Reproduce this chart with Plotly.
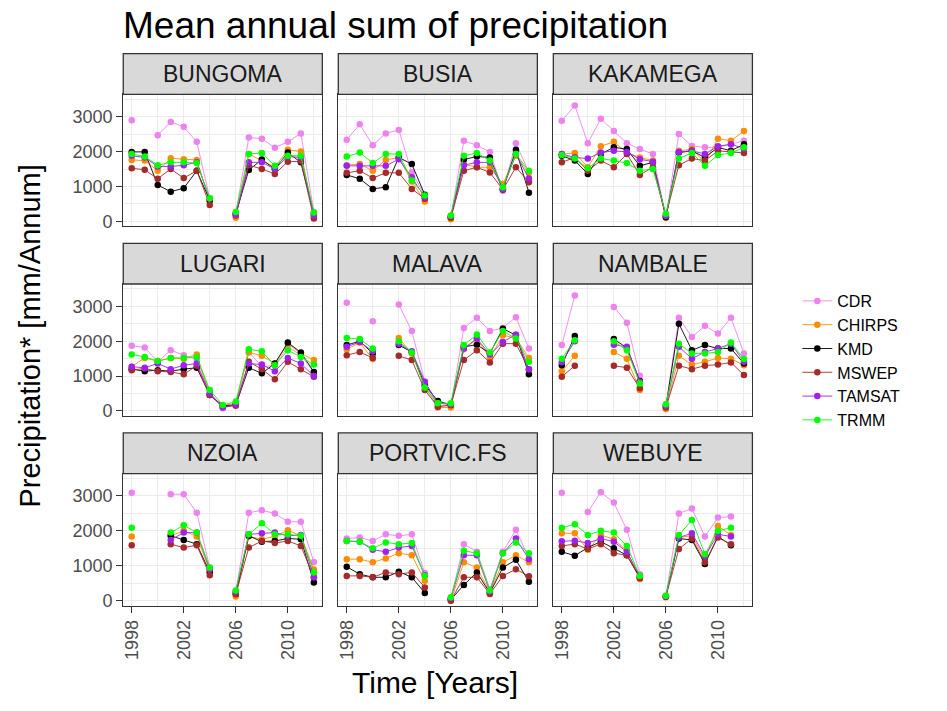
import plotly.graph_objects as go

# ---- data: mean annual precipitation sums [mm/annum], 1998-2012 ----
years = list(range(1998, 2013))
products = ["CDR", "CHIRPS", "KMD", "MSWEP", "TAMSAT", "TRMM"]
stations = ["BUNGOMA", "BUSIA", "KAKAMEGA", "LUGARI", "MALAVA", "NAMBALE",
            "NZOIA", "PORTVIC.FS", "WEBUYE"]
N = None

BUNGOMA = {
    "CDR":    [2900, N, 2470, 2850, 2710, 2280, 660, N, 220, 2400, 2370, 2110, 2280, 2520, 270],
    "CHIRPS": [1760, 1740, 1450, 1810, 1780, 1760, 570, N, 100, 1930, 1740, 1550, 2050, 2000, 120],
    "KMD":    [1990, 1990, 1040, 850, 950, 1450, 600, N, 220, 1470, 1770, 1500, 1970, 1690, 220],
    "MSWEP":  [1520, 1480, 1220, 1500, 1240, 1450, 470, N, 170, 1610, 1500, 1360, 1710, 1720, 80],
    "TAMSAT": [1880, 1830, 1570, 1570, 1610, 1690, 650, N, 190, 1690, 1690, 1500, 1860, 1830, 170],
    "TRMM":   [1930, 1860, 1610, 1690, 1690, 1670, 660, N, 270, 1930, 1960, 1590, 1880, 1880, 250],
}
BUSIA = {
    "CDR":    [2340, 2780, 2180, 2520, 2620, 1400, 740, N, 120, 2310, 2180, 1990, 880, 2240, 1400],
    "CHIRPS": [1610, 1640, 1450, 1760, 1830, 1140, 570, N, 60, 1640, 1550, 1550, 1070, 1880, 1390],
    "KMD":    [1330, 1220, 930, 980, 1830, 1640, 760, N, 120, 1770, 1860, 1830, 910, 2050, 820],
    "MSWEP":  [1390, 1450, 1240, 1390, 1390, 930, 650, N, 100, 1450, 1550, 1400, 910, 1550, 1120],
    "TAMSAT": [1590, 1590, 1590, 1590, 1780, 1260, 690, N, 150, 1610, 1690, 1690, 930, 1930, 1230],
    "TRMM":   [1860, 1970, 1670, 1930, 1930, 1170, 740, N, 170, 1880, 1960, 1740, 980, 1930, 1450],
}
KAKAMEGA = {
    "CDR":    [2880, 3320, 2240, 2940, 2590, 2240, 2070, 1930, 120, 2500, 2160, 2120, 2120, 2210, 2310],
    "CHIRPS": [1930, 1960, 1550, 2150, 2280, 1970, 1830, 1740, 100, 2020, 2070, 1690, 2370, 2310, 2590],
    "KMD":    [1880, 1740, 1360, 1930, 2120, 2070, 1590, 1690, 120, 1970, 2020, 1830, 2120, 2020, 2210],
    "MSWEP":  [1690, 1830, 1450, 1740, 1550, 1930, 1330, 1550, 170, 1610, 1800, 1740, 2020, 1990, 1960],
    "TAMSAT": [1930, 1830, 1800, 1970, 2020, 1990, 1780, 1710, 150, 1990, 2020, 1930, 2150, 2210, 2090],
    "TRMM":   [1900, 1800, 1520, 1800, 1740, 1670, 1450, 1500, 220, 1800, 1960, 1590, 1900, 1960, 2120],
}
LUGARI = {
    "CDR":    [1870, 1820, 1410, 1740, 1600, 1480, 550, 80, 190, 1690, 1270, 1310, 1840, 1600, 1120],
    "CHIRPS": [1270, 1520, 1430, 1520, 1500, 1620, 460, 150, 220, 1680, 1580, 1360, 1930, 1650, 1460],
    "KMD":    [1200, 1140, 1170, 1140, 1200, 1240, 460, 150, 170, 1240, 1080, 1360, 1960, 1680, 1120],
    "MSWEP":  [1170, 1220, 1140, 1120, 1050, 1300, 460, 120, 150, 1410, 1200, 910, 1410, 1200, 980],
    "TAMSAT": [1270, 1240, 1360, 1200, 1310, 1360, 500, 100, 190, 1360, 1330, 1140, 1520, 1360, 1000],
    "TRMM":   [1620, 1550, 1430, 1520, 1520, 1550, 600, 170, 270, 1770, 1710, 1310, 1740, 1550, 1330],
}
MALAVA = {
    "CDR":    [3100, N, 2570, N, 3050, 2290, 840, 150, 150, 2380, 2670, 2290, 2380, 2690, 1790],
    "CHIRPS": [1770, 1960, 1490, N, 2090, 1650, 720, 100, 100, 1770, 2060, 1520, 2170, 2090, 1520],
    "KMD":    [1890, 2000, 1650, N, 1890, 1690, 740, 290, 170, 1840, 1900, 1650, 2360, 2170, 1050],
    "MSWEP":  [1600, 1690, 1520, N, 1580, 1460, 600, 120, 170, 1460, 1740, 1390, 1930, 1930, 1200],
    "TAMSAT": [1840, 1980, 1710, N, 1930, 1710, 840, 220, 190, 1790, 2080, 1620, 1980, 2190, 1200],
    "TRMM":   [2090, 2060, 1790, N, 2000, 1680, 670, 220, 220, 1890, 2190, 1680, 2290, 2080, 1410],
}
NAMBALE = {
    "CDR":    [1890, 3310, N, N, 2980, 2530, 1010, N, 150, 2670, 2120, 2440, 2220, 2670, 1650],
    "CHIRPS": [1140, 1580, N, N, 1690, 1500, 600, N, 60, 1580, 1330, 1410, 1520, 1500, 1310],
    "KMD":    [1310, 2150, N, N, 2060, 1810, 860, N, 120, 2500, 1740, 1890, 1790, 1790, 1360],
    "MSWEP":  [980, 1300, N, N, 1300, 1240, 650, N, 100, 1300, 1200, 1300, 1330, 1390, 1030],
    "TAMSAT": [1400, 2000, N, N, 1900, 1840, 840, N, 150, 1840, 1500, 1690, 1790, 1930, 1410],
    "TRMM":   [1500, 2030, N, N, 2000, 1740, 790, N, 190, 1930, 1650, 1650, 1690, 1960, 1490],
}
NZOIA = {
    "CDR":    [3090, N, N, 3050, 3050, 2520, 950, N, 240, 2520, 2590, 2500, 2260, 2260, 1110],
    "CHIRPS": [1840, N, N, 1860, 2000, 1840, 860, N, 120, 1840, 1760, 1840, 2020, 1860, 890],
    "KMD":    [N, N, N, 1860, 1740, 1620, 810, N, 190, 1860, 1690, 1710, 1780, 1760, 520],
    "MSWEP":  [1590, N, N, 1620, 1520, 1590, 730, N, 190, 1520, 1710, 1650, 1710, 1570, 670],
    "TAMSAT": [N, N, N, 1740, 1950, 1950, 900, N, 260, 1900, 1930, 1950, 1860, 1880, 670],
    "TRMM":   [2090, N, N, 1950, 2160, 1950, 950, N, 290, 1900, 2220, 1900, 1900, 1860, 810],
}
PORTVIC_FS = {
    "CDR":    [1780, 1810, 1710, 1900, 1860, 1900, 790, N, 50, 1620, 1400, 330, 1400, 2030, 1210],
    "CHIRPS": [1190, 1190, 1100, 1210, 1360, 1300, 570, N, 0, 1100, 950, 240, 1100, 1300, 1100],
    "KMD":    [970, 760, 670, 670, 830, 670, 220, N, 30, 450, 810, 220, 950, 1170, 540],
    "MSWEP":  [710, 710, 670, 810, 760, 810, 380, N, 0, 670, 670, 190, 710, 900, 700],
    "TAMSAT": [1710, 1690, 1460, 1400, 1520, 1570, 730, N, 70, 1300, 1300, 260, 1360, 1780, 1190],
    "TRMM":   [1710, 1690, 1500, 1670, 1620, 1650, 710, N, 100, 1430, 1360, 290, 1360, 1670, 1360],
}
WEBUYE = {
    "CDR":    [3090, N, 2540, 3110, 2810, 2030, 760, N, 140, 2500, 2640, 1840, 2380, 2410, N],
    "CHIRPS": [1930, 1930, 1460, 1880, 1760, 1430, 620, N, 100, 1810, 1860, 1190, 2140, 1880, N],
    "KMD":    [1400, 1290, 1520, 1690, 1500, 1300, 670, N, 120, 1780, 1740, 1050, 1840, 1590, N],
    "MSWEP":  [1570, 1620, 1480, 1620, 1360, 1300, 640, N, 120, 1480, 1780, 1100, 1810, 1620, N],
    "TAMSAT": [1700, 1720, 1650, 1780, 1690, 1400, 710, N, 120, 1810, 1930, 1270, 1900, 1840, N],
    "TRMM":   [2090, 2190, 1880, 2000, 1950, 1570, 710, N, 140, 1880, 2310, 1330, 2000, 2090, N],
}
station_data = [BUNGOMA, BUSIA, KAKAMEGA, LUGARI, MALAVA, NAMBALE, NZOIA, PORTVIC_FS, WEBUYE]

colors = {"CDR": "#EE82EE", "CHIRPS": "#FF8C00", "KMD": "#000000",
          "MSWEP": "#A52A2A", "TAMSAT": "#A020F0", "TRMM": "#00FF00"}

x_ticks = [1998, 2002, 2006, 2010]
x_minor = [2000, 2004, 2008, 2012]
y_ticks = [0, 1000, 2000, 3000]
y_minor = [500, 1500, 2500, 3500]

# ---- page geometry (pixels) ----
W, H = 947, 711
col_left = [121.5, 337.0, 552.5]
panel_w = 199.5
row_top = [95.0, 286.0, 477.0]
panel_h = 133.0
strip_h = 41.0

FONT = "Liberation Sans, Arial, sans-serif"
EDGE = "#333333"
GRID = "#EBEBEB"

fig = go.Figure()
layout = dict(
    width=W, height=H,
    margin=dict(l=0, r=0, t=0, b=0),
    paper_bgcolor="white", plot_bgcolor="white",
    font=dict(family=FONT, color="#1A1A1A"),
    showlegend=True,
    legend=dict(x=797 / W, y=1 - 286 / H, xanchor="left", yanchor="top",
                font=dict(size=16, color="#000000", family=FONT),
                itemwidth=30, tracegroupgap=0, bgcolor="rgba(0,0,0,0)"),
)
shapes, annotations = [], []

for k, (name, data) in enumerate(zip(stations, station_data)):
    r, c = divmod(k, 3)
    sfx = "" if k == 0 else str(k + 1)
    x0 = col_left[c]
    x1 = x0 + panel_w
    top = row_top[r]
    bot = top + panel_h
    bottom_row = (r == 2)
    left_col = (c == 0)

    layout["xaxis" + sfx] = dict(
        domain=[x0 / W, x1 / W], anchor="y" + sfx,
        range=[1997.35, 2012.65], tickmode="array", tickvals=x_ticks,
        showticklabels=bottom_row, ticks="outside" if bottom_row else "",
        ticklen=6, tickwidth=1.2, tickcolor=EDGE, tickangle=-90,
        tickfont=dict(size=18, color="#4D4D4D"),
        showgrid=True, gridcolor=GRID, gridwidth=1.2,
        minor=dict(tickvals=x_minor, showgrid=True, gridcolor=GRID, gridwidth=0.6, ticks=""),
        showline=True, mirror=True, linecolor=EDGE, linewidth=1.3, zeroline=False,
    )
    layout["yaxis" + sfx] = dict(
        domain=[1 - bot / H, 1 - top / H], anchor="x" + sfx,
        range=[-145, 3640], tickmode="array", tickvals=y_ticks,
        showticklabels=left_col, ticks="outside" if left_col else "",
        ticklen=6, tickwidth=1.2, tickcolor=EDGE,
        tickfont=dict(size=18, color="#4D4D4D"),
        showgrid=True, gridcolor=GRID, gridwidth=1.2,
        minor=dict(tickvals=y_minor, showgrid=True, gridcolor=GRID, gridwidth=0.6, ticks=""),
        showline=True, mirror=True, linecolor=EDGE, linewidth=1.3, zeroline=False,
    )

    # facet strip
    shapes.append(dict(type="rect", xref="paper", yref="paper",
                       x0=x0 / W, x1=x1 / W, y0=1 - top / H, y1=1 - (top - strip_h) / H,
                       fillcolor="#D9D9D9", line=dict(color=EDGE, width=1.3), layer="above"))
    annotations.append(dict(text=name, xref="paper", yref="paper",
                            x=(x0 + x1) / 2 / W, y=1 - (top - strip_h / 2) / H,
                            xanchor="center", yanchor="middle", showarrow=False,
                            font=dict(size=23, color="#1A1A1A", family=FONT)))

    for p in products:
        fig.add_trace(go.Scatter(
            x=years, y=data[p], name=p, mode="lines+markers",
            xaxis="x" + sfx, yaxis="y" + sfx,
            line=dict(color=colors[p], width=0.9),
            marker=dict(color=colors[p], size=6.5),
            connectgaps=False, legendgroup=p, showlegend=(k == 0),
        ))

# title and shared axis titles
annotations.append(dict(text="Mean annual sum of precipitation", xref="paper", yref="paper",
                        x=119 / W, y=1 - 3 / H, xanchor="left", yanchor="top", showarrow=False,
                        font=dict(size=37, color="#000000", family=FONT)))
annotations.append(dict(text="Precipitation* [mm/Annum]", xref="paper", yref="paper",
                        x=28 / W, y=1 - 338 / H, xanchor="center", yanchor="middle",
                        textangle=-90, showarrow=False,
                        font=dict(size=29, color="#000000", family=FONT)))
annotations.append(dict(text="Time [Years]", xref="paper", yref="paper",
                        x=434 / W, y=1 - 687 / H, xanchor="center", yanchor="middle",
                        showarrow=False, font=dict(size=30, color="#000000", family=FONT)))

layout["shapes"] = shapes
layout["annotations"] = annotations
fig.update_layout(**layout)
fig.write_html("out.html")
